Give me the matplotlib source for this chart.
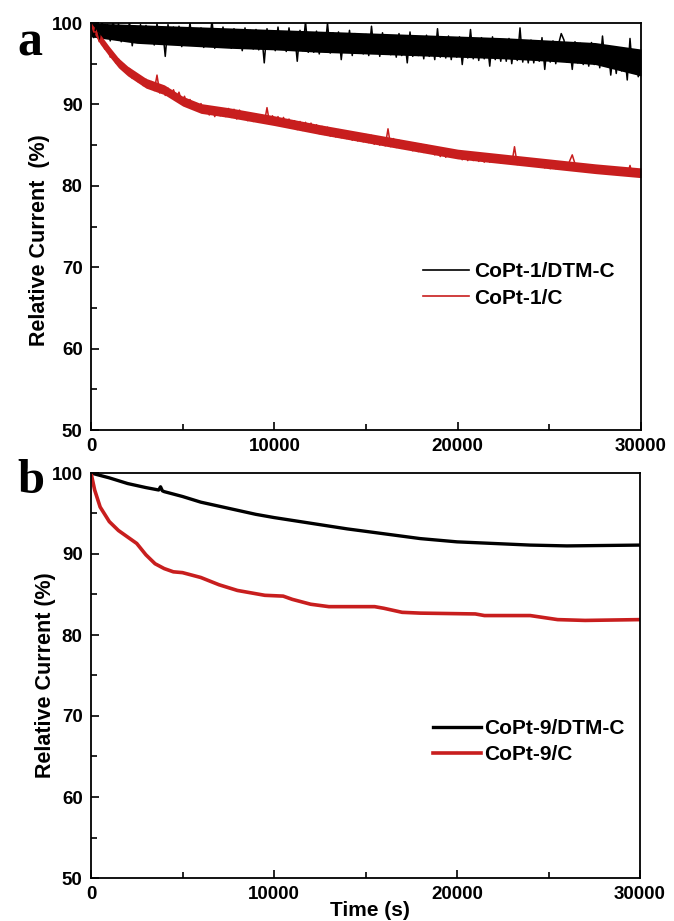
import numpy as np
import matplotlib
matplotlib.use('Agg')
from matplotlib import pyplot as plt
from matplotlib.ticker import MultipleLocator

t_a = np.arange(0, 30001, 150)
a_dtm = [100.0, 98.2, 99.9, 98.0, 100.2, 98.5, 99.8, 97.8, 100.3, 98.4,
         99.9, 97.7, 99.5, 98.0, 100.1, 97.2, 99.6, 97.9, 99.8, 98.1,
         99.7, 97.6, 99.2, 97.3, 99.9, 97.8, 99.4, 95.9, 99.8, 97.7,
         99.5, 97.4, 99.6, 97.1, 99.2, 97.6, 100.0, 97.3, 99.3, 97.5,
         99.4, 97.0, 99.1, 97.4, 100.3, 96.9, 99.2, 97.2, 99.5, 97.3,
         99.0, 96.9, 99.3, 97.1, 98.9, 96.6, 99.4, 97.0, 99.1, 96.8,
         99.2, 96.7, 98.9, 95.1, 99.3, 96.9, 99.0, 96.6, 99.5, 96.8,
         98.9, 96.5, 99.4, 96.8, 98.8, 95.3, 99.1, 96.6, 100.2, 96.4,
         98.7, 96.4, 99.0, 96.2, 98.6, 96.5, 100.0, 96.3, 98.8, 96.6,
         98.9, 95.5, 98.5, 96.4, 99.1, 96.0, 98.7, 96.3, 98.4, 96.2,
         98.6, 96.0, 99.6, 96.3, 98.5, 95.9, 98.8, 96.2, 98.4, 96.1,
         98.3, 95.8, 98.7, 96.0, 98.2, 95.1, 98.9, 95.9, 98.4, 96.0,
         98.2, 95.6, 98.5, 95.9, 98.0, 95.5, 99.3, 95.8, 98.1, 95.7,
         98.4, 95.5, 97.9, 95.8, 98.3, 94.9, 98.0, 95.7, 99.2, 95.6,
         97.9, 95.4, 98.2, 95.6, 97.8, 94.7, 98.3, 95.5, 97.7, 95.3,
         97.8, 95.3, 98.1, 95.0, 97.6, 95.4, 99.4, 95.2, 97.7, 95.1,
         97.9, 95.1, 97.5, 95.3, 98.2, 94.3, 97.6, 95.2, 97.8, 95.0,
         97.4, 98.7, 97.9, 95.2, 97.3, 94.3, 97.7, 95.1, 97.5, 94.9,
         97.2, 94.7, 97.6, 94.9, 97.0, 94.5, 98.4, 94.8, 97.1, 93.6,
         96.6, 93.8, 96.9, 94.1, 96.4, 93.0, 98.1, 93.9, 96.2, 93.4,
         94.3]
a_c = [100.0, 98.9, 98.9, 97.7, 97.9, 96.8, 97.0, 95.8, 96.2, 95.1,
       95.6, 94.4, 94.9, 93.8, 94.4, 93.2, 93.9, 92.8, 93.4, 92.3,
       93.1, 92.0, 92.8, 91.7, 93.6, 91.4, 92.3, 91.1, 92.0, 91.0,
       91.8, 90.7, 91.5, 90.3, 91.0, 89.8, 90.6, 89.4, 90.2, 89.2,
       90.1, 89.0, 89.8, 88.7, 89.6, 88.5, 89.5, 88.6, 89.4, 88.5,
       89.5, 88.4, 89.4, 88.2, 89.3, 88.3, 89.0, 88.0, 88.9, 87.9,
       88.8, 87.8, 88.7, 87.7, 89.6, 87.6, 88.6, 87.5, 88.5, 87.4,
       88.4, 87.3, 88.2, 87.1, 88.0, 86.9, 87.9, 86.8, 87.8, 86.7,
       87.7, 86.6, 87.5, 86.4, 87.3, 86.3, 87.2, 86.1, 87.0, 86.0,
       86.9, 85.9, 86.7, 85.8, 86.6, 85.6, 86.5, 85.5, 86.3, 85.4,
       86.3, 85.3, 86.2, 85.1, 86.0, 85.0, 85.9, 84.9, 87.0, 84.8,
       85.8, 84.7, 85.6, 84.6, 85.4, 84.5, 85.3, 84.3, 85.2, 84.2,
       85.1, 84.1, 85.0, 84.0, 84.8, 83.8, 84.6, 83.6, 84.5, 83.5,
       84.4, 83.5, 84.2, 83.4, 84.1, 83.2, 83.9, 83.1, 83.9, 83.1,
       83.9, 83.0, 83.8, 82.9, 83.8, 82.9, 83.7, 82.9, 83.7, 82.8,
       83.6, 82.8, 83.5, 82.7, 84.8, 82.6, 83.4, 82.6, 83.3, 82.5,
       83.2, 82.4, 83.1, 82.3, 83.0, 82.2, 82.9, 82.1, 82.9, 82.1,
       82.9, 82.1, 82.8, 82.0, 83.0, 83.8, 82.7, 81.9, 82.7, 81.9,
       82.6, 81.8, 82.5, 81.7, 82.4, 81.6, 82.3, 81.6, 82.3, 81.5,
       82.2, 81.4, 82.1, 81.3, 82.0, 81.3, 82.5, 81.2, 81.9, 81.2,
       81.6]

# dense core of the noisy traces in panel a (upper / lower edge)
t_env_dtm = [0, 2500, 5000, 7500, 10000, 12500, 15000, 17500, 20000, 22500, 25000, 27500, 30000]
dtm_hi = [100.0, 99.8, 99.6, 99.4, 99.2, 99.0, 98.8, 98.6, 98.4, 98.2, 97.9, 97.6, 96.8]
dtm_lo = [98.3, 97.5, 97.2, 96.9, 96.7, 96.4, 96.2, 96.0, 95.8, 95.6, 95.3, 94.9, 93.5]
t_env_c = [0, 500, 1000, 1500, 2000, 3000, 4000, 5000, 6000, 7500, 10000, 12500, 15000,
           17500, 20000, 22500, 25000, 27500, 30000]
c_hi = [100.0, 98.6, 97.1, 95.7, 94.7, 93.2, 92.4, 91.0, 90.1, 89.6, 88.6, 87.5, 86.5,
        85.5, 84.5, 83.9, 83.3, 82.7, 82.2]
c_lo = [99.4, 97.4, 95.9, 94.5, 93.5, 92.0, 91.2, 89.8, 88.9, 88.4, 87.4, 86.3, 85.3,
        84.3, 83.3, 82.7, 82.1, 81.5, 81.0]

# panel b: smooth curves
t_b_dtm = [0, 1000, 2000, 3000, 3700, 3800, 3900, 4000, 5000, 6000, 7000, 8000, 9000,
           10000, 12000, 14000, 16000, 18000, 20000, 22000, 24000, 26000, 28000, 30000]
b_dtm = [100.0, 99.4, 98.7, 98.2, 97.9, 98.3, 97.8, 97.7, 97.1, 96.4, 95.9, 95.4, 94.9,
         94.5, 93.8, 93.1, 92.5, 91.9, 91.5, 91.3, 91.1, 91.0, 91.05, 91.1]
t_b_c = [0, 200, 500, 1000, 1500, 2000, 2500, 3000, 3500, 4000, 4500, 5000, 6000, 7000,
         8000, 9000, 9500, 10500, 11000, 12000, 13000, 15500, 16000, 17000, 18000,
         21000, 21500, 24000, 25500, 27000, 30000]
b_c = [100.0, 97.9, 95.8, 94.0, 92.9, 92.1, 91.3, 89.9, 88.8, 88.2, 87.8, 87.7, 87.1, 86.2,
       85.5, 85.1, 84.9, 84.8, 84.4, 83.8, 83.5, 83.5, 83.3, 82.8, 82.7,
       82.6, 82.4, 82.4, 81.9, 81.8, 81.9]

red = '#c81e1e'
font = 'Liberation Sans'

fig = plt.figure(figsize=(6.74, 9.21), dpi=100)
ax1 = fig.add_axes([91 / 674, 1 - 430 / 921, 550 / 674, 407 / 921])
ax2 = fig.add_axes([91 / 674, 1 - 878 / 921, 549 / 674, 405 / 921])

ax1.fill_between(t_env_dtm, dtm_lo, dtm_hi, color='black', lw=0)
ax1.plot(t_a, a_dtm, color='black', lw=1.1, label='CoPt-1/DTM-C')
ax1.fill_between(t_env_c, c_lo, c_hi, color=red, lw=0)
ax1.plot(t_a, a_c, color=red, lw=1.1, label='CoPt-1/C')
ax2.plot(t_b_dtm, b_dtm, color='black', lw=2.4, label='CoPt-9/DTM-C')
ax2.plot(t_b_c, b_c, color=red, lw=2.6, label='CoPt-9/C')

for ax in (ax1, ax2):
    ax.set_xlim(0, 30000)
    ax.set_ylim(50, 100)
    ax.xaxis.set_major_locator(MultipleLocator(10000))
    ax.xaxis.set_minor_locator(MultipleLocator(5000))
    ax.yaxis.set_major_locator(MultipleLocator(10))
    ax.yaxis.set_minor_locator(MultipleLocator(5))
    ax.tick_params(which='both', direction='in', width=1.2, top=False, right=False)
    ax.tick_params(which='major', length=6, pad=6)
    ax.tick_params(which='minor', length=4)
    for lab in ax.get_xticklabels() + ax.get_yticklabels():
        lab.set_fontfamily(font)
        lab.set_fontweight('bold')
        lab.set_fontsize(13.5)
    for sp in ax.spines.values():
        sp.set_linewidth(1.3)
        sp.set_zorder(3)

ax1.set_ylabel('Relative Current  (%)', fontfamily=font, fontweight='bold', fontsize=15.5)
ax1.yaxis.set_label_coords(-0.074, 0.467)
ax2.set_ylabel('Relative Current (%)', fontfamily=font, fontweight='bold', fontsize=15.5)
ax2.yaxis.set_label_coords(-0.064, 0.5)
ax2.set_xlabel('Time (s)', fontfamily=font, fontweight='bold', fontsize=15)
ax2.xaxis.set_label_coords(0.508, -0.058)

leg_font = {'family': font, 'weight': 'bold', 'size': 15}
leg1 = ax1.legend(loc='center left', bbox_to_anchor=(0.604, 0.356), frameon=False, prop=leg_font,
                  borderpad=0, borderaxespad=0, handlelength=2.2, handletextpad=0.25,
                  labelspacing=0.35)
for h in leg1.get_lines():
    h.set_linewidth(1.2)
ax2.legend(loc='center left', bbox_to_anchor=(0.623, 0.337), frameon=False, prop=leg_font,
           borderpad=0, borderaxespad=0, handlelength=2.3, handletextpad=0.15, labelspacing=0.35)

fig.text(17 / 674, 1 - 55 / 921, 'a', fontfamily='Liberation Serif', fontweight='bold',
         fontsize=36, va='baseline')
fig.text(17 / 674, 1 - 493 / 921, 'b', fontfamily='Liberation Serif', fontweight='bold',
         fontsize=35, va='baseline')

fig.savefig('out.png', dpi=100)
